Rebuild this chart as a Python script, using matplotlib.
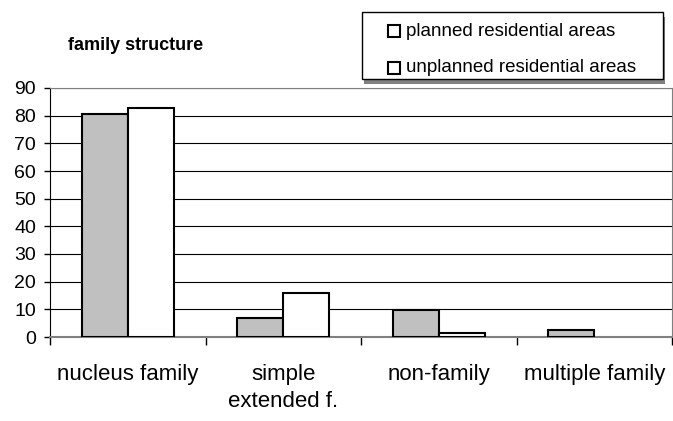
import matplotlib.pyplot as plt
import numpy as np
from matplotlib.patches import Rectangle

plt.rcParams['font.family'] = ['Liberation Sans', 'DejaVu Sans']

# Data
categories = ['nucleus family', 'simple\nextended f.', 'non-family', 'multiple family']
planned = [80.5, 6.9, 9.7, 2.5]
unplanned = [82.7, 15.9, 1.4, 0]
series_names = ['planned residential areas', 'unplanned residential areas']

fig = plt.figure(figsize=(6.73, 4.21), dpi=100)
ax = fig.add_axes([50 / 673, 1 - 337 / 421, 622 / 673, 249 / 421])

x = np.arange(len(categories))
w = 0.296
# zero-height bars are not drawn in the original
planned_h = [v if v > 0 else np.nan for v in planned]
unplanned_h = [v if v > 0 else np.nan for v in unplanned]
ax.bar(x - w / 2, planned_h, w, color='#c0c0c0', edgecolor='black', linewidth=1.5, zorder=3)
ax.bar(x + w / 2, unplanned_h, w, color='white', edgecolor='black', linewidth=1.5, zorder=3)

ax.set_xlim(-0.5, len(categories) - 0.5)
ax.set_ylim(0, 90)
ax.set_yticks(range(0, 91, 10))
ax.yaxis.grid(True, color='black', linewidth=0.8, zorder=0)
ax.set_axisbelow(True)

# Category boundary ticks
ax.set_xticks(np.arange(-0.5, len(categories), 1))
ax.set_xticklabels([])
ax.tick_params(axis='x', direction='out', length=6, width=1)
for i, c in enumerate(categories):
    ax.text(i, -9.8, c, ha='center', va='top', fontsize=16, linespacing=1.38)

ax.tick_params(axis='y', direction='out', length=4.5, width=1, labelsize=14, pad=5.5)
for s in ['top', 'right']:
    ax.spines[s].set_color('#808080')
ax.spines['bottom'].set_color('#808080')
ax.spines['bottom'].set_linewidth(1.5)

fig.text(68 / 673, 1 - 45 / 421, 'family structure', fontsize=13, fontweight='bold', va='center')

# Legend box with shadow
lx, ly, lw_, lh = 362, 12, 301, 67
fig.patches.append(Rectangle((lx / 673 + 0.003, 1 - (ly + lh) / 421 - 0.012), lw_ / 673, lh / 421,
                             transform=fig.transFigure, facecolor='#808080', edgecolor='none'))
fig.patches.append(Rectangle((lx / 673, 1 - (ly + lh) / 421), lw_ / 673, lh / 421,
                             transform=fig.transFigure, facecolor='white', edgecolor='black', linewidth=1))
for k, name in enumerate(series_names):
    yy = 1 - (31 + 37 * k) / 421
    fig.patches.append(Rectangle((388 / 673, yy - 6 / 421), 12 / 673, 12 / 421,
                                 transform=fig.transFigure, facecolor='white', edgecolor='black', linewidth=1.5))
    fig.text(406 / 673, yy, name, fontsize=13.5, va='center')

fig.savefig('out.png', dpi=100)
